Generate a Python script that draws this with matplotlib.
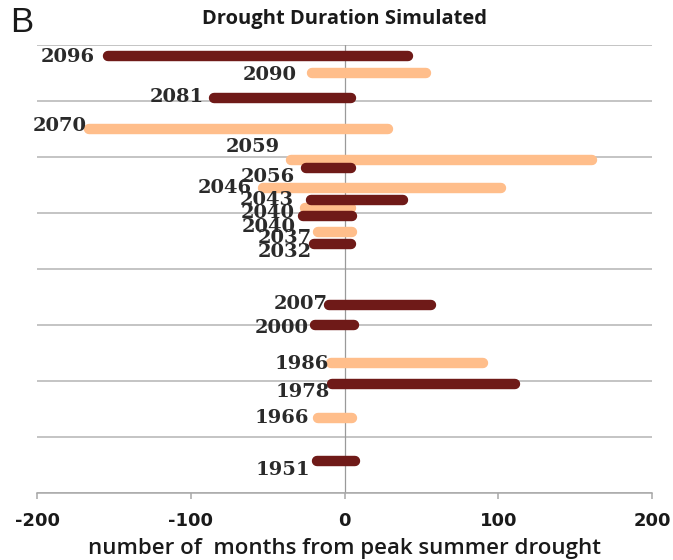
import matplotlib
matplotlib.use("Agg")
import matplotlib.pyplot as plt

# ---- data ----
year_labels = ["2096", "2090", "2081", "2070", "2059", "2056", "2046", "2043", "2040",
               "2040", "2037", "2032", "2007", "2000", "1986", "1978", "1966", "1951"]
series = ["dark", "light", "dark", "light", "light", "dark", "light", "dark", "light",
          "dark", "light", "dark", "dark", "dark", "light", "dark", "light", "dark"]
start_months = [-154, -21, -85, -166, -35, -25, -53, -22, -26,
                -27, -17, -20, -10, -19, -9, -8, -17, -18]
end_months = [41, 53, 4, 28, 161, 4, 102, 38, 4,
              5, 5, 4, 56, 6, 90, 111, 5, 7]
y_values = [2096.1, 2090.0, 2081.1, 2070.0, 2058.9, 2056.2, 2049.1, 2044.6, 2041.8,
            2038.9, 2033.2, 2029.1, 2007.1, 2000.0, 1986.4, 1979.0, 1966.8, 1951.4]
x_ticks = [-200, -100, 0, 100, 200]
x_tick_labels = ["-200", "-100", "0", "100", "200"]
y_grid = [1940, 1960, 1980, 2000, 2020, 2040, 2060, 2080, 2100]

# ---- layout / style (not data) ----
label_dx = [-13, -16, -10, -3, -11, -11, -11, -17, -10, -7, -7, -2, -1, -7, -2, -2, -9, -7]
label_dy = [1, 2, -1, -3, -13, 9, 0, 0, 5, 11, 6, 8, -1, 3, 1, 8, 0, 9]
colors = {"dark": "#6f1a18", "light": "#ffbe8b"}
zorders = {"light": 3, "dark": 4}

fig = plt.figure(figsize=(6.73, 5.6), dpi=100)
ax = fig.add_axes([37 / 673, 67 / 560, 615 / 673, 448 / 560])
ax.set_xlim(-200, 200)
ax.set_ylim(1940, 2100)

ax.set_yticks(y_grid)
ax.set_yticklabels([])
ax.tick_params(axis="y", length=0)
ax.yaxis.grid(True, color="#b4b4b4", linewidth=1.1)
ax.set_axisbelow(True)
for side in ["left", "right", "top"]:
    ax.spines[side].set_visible(False)
ax.spines["bottom"].set_color("#a8a8a8")
ax.spines["bottom"].set_linewidth(1.1)
ax.axvline(0, color="#9a9a9a", linewidth=0.9, zorder=1)

ax.set_xticks(x_ticks)
ax.set_xticklabels(x_tick_labels, fontweight="bold", fontsize=13, family="DejaVu Sans",
                   color="#1a1a1a")
ax.tick_params(axis="x", length=4, color="#a8a8a8", width=1.1, pad=9.5)

for lab, ser, s, e, y, dx, dy in zip(year_labels, series, start_months, end_months,
                                     y_values, label_dx, label_dy):
    ax.plot([s, e], [y, y], color=colors[ser], linewidth=7.5,
            solid_capstyle="round", zorder=zorders[ser])
    ax.annotate(lab, xy=(s, y), xytext=(dx, -dy), textcoords="offset pixels",
                ha="right", va="center", family="DejaVu Serif", fontweight="bold",
                fontsize=14, color="#2a2a2a", zorder=6)

ax.set_xlabel("number of  months from peak summer drought", family="Open Sans",
              fontweight="semibold", fontsize=16, color="#1a1a1a", labelpad=6)

fig.text(344.5 / 673, 1 - 19 / 560, "Drought Duration Simulated", ha="center",
         va="center", family="Open Sans", fontweight="bold", fontsize=14.5, color="#1a1a1a")
fig.text(10 / 673, 1 - 22 / 560, "B", ha="left", va="center", family="Liberation Sans",
         fontsize=25, color="#1a1a1a")

fig.savefig("out.png", dpi=100)
